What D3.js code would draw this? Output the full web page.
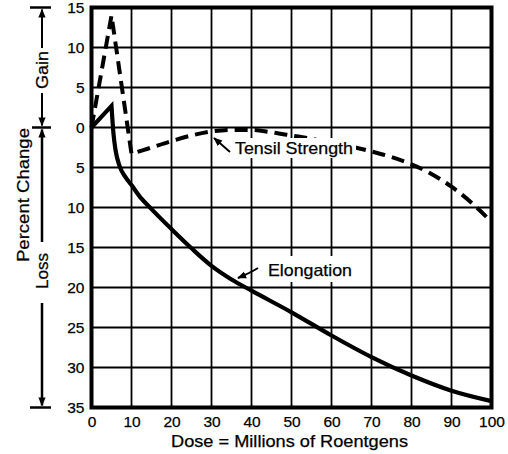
<!DOCTYPE html>
<html>
<head>
<meta charset="utf-8">
<script src="https://cdn.jsdelivr.net/npm/d3@7/dist/d3.min.js"></script>
<style>
  html, body { margin: 0; padding: 0; background: #fff; }
  svg { display: block; }
  text { font-family: "Liberation Sans", Arial, Helvetica, sans-serif; fill: #000; stroke: #000; stroke-width: 0.25px; }
</style>
</head>
<body>
<svg id="chart" width="508" height="454"></svg>
<script>
// ---- data ----
const xTicks = [0, 10, 20, 30, 40, 50, 60, 70, 80, 90, 100];
const yTicks = [15, 10, 5, 0, -5, -10, -15, -20, -25, -30, -35];
const yTickLabels = ["15", "10", "5", "0", "5", "10", "15", "20", "25", "30", "35"];

// Tensile strength (dashed)
const tensileDose  = [0, 5, 10, 15, 20, 25, 30, 35, 40, 45, 50, 55, 60, 65, 70, 75, 80, 85, 90, 95, 100];
const tensileValue = [0, 14, -3.3, -2.5, -1.7, -1.0, -0.5, -0.3, -0.3, -0.6, -1.0, -1.4, -1.9, -2.4, -3.0, -3.7, -4.6, -5.8, -7.4, -9.4, -11.8];

// Elongation (solid)
const elongDose  = [0, 5, 5.5, 6, 7, 8.5, 10, 12.5, 15, 20, 25, 30, 35, 40, 50, 60, 70, 80, 90, 100];
const elongValue = [0, 2.7, -0.8, -2.8, -4.8, -6.2, -7.2, -8.9, -10.2, -12.7, -15.1, -17.3, -19.0, -20.4, -23.1, -26.0, -28.7, -31.0, -32.9, -34.2];

const xTitle = "Dose = Millions of Roentgens";
const yTitle = "Percent Change";

// ---- layout ----
const svg = d3.select("#chart");
const pLeft = 91.5, pRight = 491.5, pTop = 7.5, pBottom = 407.5;
const x = d3.scaleLinear().domain([0, 100]).range([pLeft, pRight]);
const y = d3.scaleLinear().domain([15, -35]).range([pTop, pBottom]);

// gridlines
const grid = svg.append("g");
grid.selectAll("line.v").data(xTicks.slice(1, -1)).enter().append("line")
  .attr("x1", d => x(d)).attr("x2", d => x(d))
  .attr("y1", pTop).attr("y2", pBottom)
  .attr("stroke", "#000").attr("stroke-width", 1.8);
grid.selectAll("line.h").data(yTicks.slice(1, -1)).enter().append("line")
  .attr("x1", pLeft).attr("x2", pRight)
  .attr("y1", d => y(d)).attr("y2", d => y(d))
  .attr("stroke", "#000").attr("stroke-width", d => d === 0 ? 2.2 : 1.8);

// frame
svg.append("rect")
  .attr("x", pLeft).attr("y", pTop)
  .attr("width", pRight - pLeft).attr("height", pBottom - pTop)
  .attr("fill", "none").attr("stroke", "#000").attr("stroke-width", 4);

// axes (labels only)
const xAxis = d3.axisBottom(x).tickValues(xTicks).tickSize(0).tickPadding(8).tickFormat(d3.format("d"));
const gx = svg.append("g").attr("transform", `translate(0,${pBottom})`).call(xAxis);
gx.select(".domain").remove();
gx.selectAll("text").style("font-size", "15.5px").style("font-family", "'Liberation Sans', Arial, sans-serif");

const yAxis = d3.axisLeft(y).tickValues(yTicks).tickSize(0).tickPadding(7)
  .tickFormat((d, i) => yTickLabels[i]);
const gy = svg.append("g").attr("transform", `translate(${pLeft},0)`).call(yAxis);
gy.select(".domain").remove();
gy.selectAll("text").style("font-size", "15.5px").style("font-family", "'Liberation Sans', Arial, sans-serif");

// ---- series ----
const tensile = tensileDose.map((d, i) => [d, tensileValue[i]]);
const elong = elongDose.map((d, i) => [d, elongValue[i]]);

const lineLin = d3.line().x(d => x(d[0])).y(d => y(d[1])).curve(d3.curveLinear);
const lineSmooth = d3.line().x(d => x(d[0])).y(d => y(d[1])).curve(d3.curveMonotoneX);

// tensile: sharp peak then smooth curve
svg.append("path")
  .attr("d", lineLin(tensile.slice(0, 3)) + lineSmooth(tensile.slice(2)).replace(/^M/, "L"))
  .attr("fill", "none").attr("stroke", "#000").attr("stroke-width", 4)
  .attr("stroke-dasharray", "13,7").attr("stroke-linejoin", "miter");

// elongation
svg.append("path")
  .attr("d", lineLin(elong.slice(0, 2)) + lineSmooth(elong.slice(1)).replace(/^M/, "L"))
  .attr("fill", "none").attr("stroke", "#000").attr("stroke-width", 4.2)
  .attr("stroke-linejoin", "miter");

// ---- annotations ----
const defs = svg.append("defs");
defs.append("marker").attr("id", "ah").attr("viewBox", "0 0 10 10")
  .attr("refX", 9).attr("refY", 5).attr("markerWidth", 9).attr("markerHeight", 9)
  .attr("markerUnits", "userSpaceOnUse").attr("orient", "auto")
  .append("path").attr("d", "M0,1 L10,5 L0,9 Z").attr("fill", "#000").attr("stroke", "none");

// white label backgrounds (labels sit over the grid and curve)
svg.append("rect").attr("x", 232).attr("y", 138).attr("width", 124).attr("height", 20).attr("fill", "#fff");
svg.append("rect").attr("x", 263).attr("y", 256).attr("width", 93).attr("height", 26).attr("fill", "#fff");

svg.append("text").attr("x", 235).attr("y", 154)
  .attr("textLength", 118).attr("lengthAdjust", "spacingAndGlyphs")
  .style("font-size", "16.5px").text("Tensil Strength");
svg.append("line").attr("x1", 230).attr("y1", 152).attr("x2", 214).attr("y2", 138)
  .attr("stroke", "#000").attr("stroke-width", 2).attr("marker-end", "url(#ah)");

svg.append("text").attr("x", 268).attr("y", 276)
  .attr("textLength", 84).attr("lengthAdjust", "spacingAndGlyphs")
  .style("font-size", "16.5px").text("Elongation");
svg.append("path").attr("d", "M258,268 Q250,273 238,278")
  .attr("fill", "none").attr("stroke", "#000").attr("stroke-width", 2).attr("marker-end", "url(#ah)");

// x title
svg.append("text").attr("x", 171).attr("y", 447)
  .attr("textLength", 237).attr("lengthAdjust", "spacingAndGlyphs")
  .style("font-size", "16.5px").text(xTitle);

// y title
svg.append("text").attr("transform", "translate(23,195) rotate(-90)")
  .attr("x", -67).attr("dominant-baseline", "central")
  .attr("textLength", 134).attr("lengthAdjust", "spacingAndGlyphs")
  .style("font-size", "16.5px").text(yTitle);

// Gain / Loss bracket
const bx = 42;
const br = svg.append("g").attr("stroke", "#000");
[[y(15), 30, 51], [y(0), 32, 51], [y(-35), 30, 51]].forEach(b => {
  br.append("line").attr("x1", b[1]).attr("x2", b[2]).attr("y1", b[0]).attr("y2", b[0]).attr("stroke-width", 2.5);
});
br.append("line").attr("x1", bx).attr("x2", bx).attr("y1", 48).attr("y2", y(15) + 2)
  .attr("stroke-width", 2).attr("marker-end", "url(#ah)");
br.append("line").attr("x1", bx).attr("x2", bx).attr("y1", 93).attr("y2", y(0) - 2)
  .attr("stroke-width", 2).attr("marker-end", "url(#ah)");
br.append("line").attr("x1", bx).attr("x2", bx).attr("y1", 242).attr("y2", y(0) + 2)
  .attr("stroke-width", 2.5).attr("marker-end", "url(#ah)");
br.append("line").attr("x1", bx).attr("x2", bx).attr("y1", 303).attr("y2", y(-35) - 2)
  .attr("stroke-width", 2.5).attr("marker-end", "url(#ah)");

svg.append("text").attr("transform", `translate(${bx},70) rotate(-90)`)
  .attr("x", -19).attr("dominant-baseline", "central")
  .attr("textLength", 38).attr("lengthAdjust", "spacingAndGlyphs")
  .style("font-size", "16px").text("Gain");
svg.append("text").attr("transform", `translate(${bx},271) rotate(-90)`)
  .attr("x", -18).attr("dominant-baseline", "central")
  .attr("textLength", 36).attr("lengthAdjust", "spacingAndGlyphs")
  .style("font-size", "16px").text("Loss");
</script>
</body>
</html>
